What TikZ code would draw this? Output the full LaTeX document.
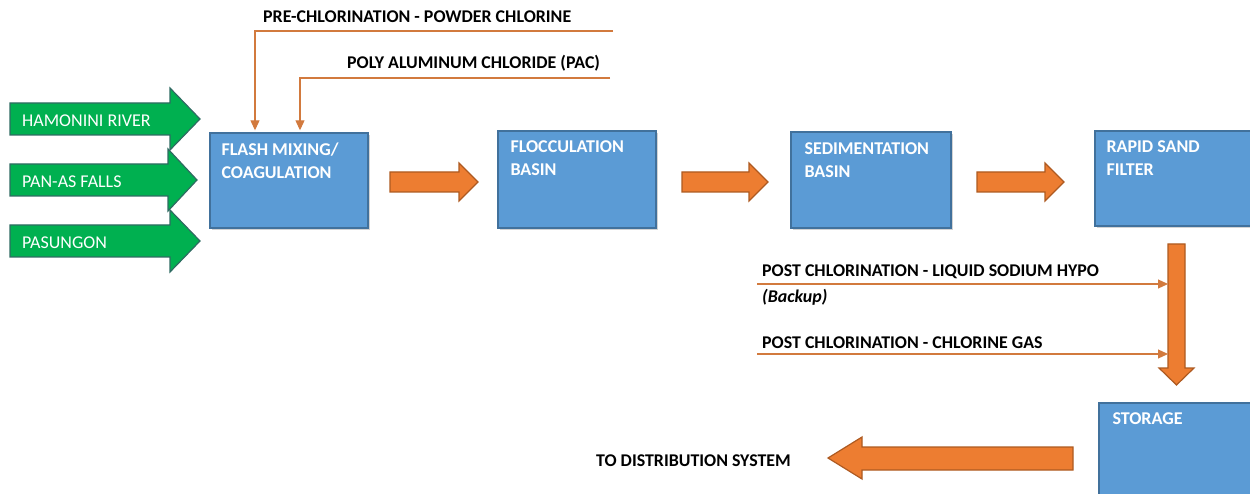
\documentclass[tikz,border=0pt]{standalone}
\usepackage{fontspec}
\setmainfont{Carlito}
\usetikzlibrary{arrows.meta,shadows}
\definecolor{boxblue}{HTML}{5B9BD5}
\definecolor{boxedge}{HTML}{41719C}
\definecolor{flowgreen}{HTML}{00B050}
\definecolor{greenedge}{HTML}{2F6B62}
\definecolor{floworange}{HTML}{ED7D31}
\definecolor{orangeedge}{HTML}{AE5A21}
\definecolor{feedline}{HTML}{D27A3E}

% right-pointing block arrow: style, x start, x head base, x tip, y centre, body half, head half
\newcommand{\blockarrowR}[7]{%
  \draw[#1] (#2,#5-#6) -- (#3,#5-#6) -- (#3,#5-#7) -- (#4,#5) -- (#3,#5+#7)
    -- (#3,#5+#6) -- (#2,#5+#6) -- cycle;}

\begin{document}
\begin{tikzpicture}[x=1pt,y=-1pt,
  stage/.style={draw=boxedge, line width=1.4pt, fill=boxblue, inner sep=0pt,
    drop shadow={opacity=0.35, shadow xshift=2pt, shadow yshift=-2pt}},
  stagetext/.style={anchor=north west, inner sep=0pt, text=white, align=left,
    font=\fontsize{18}{23}\selectfont\bfseries},
  source/.style={draw=greenedge, line width=1.2pt, fill=flowgreen, line join=miter},
  sourcetext/.style={anchor=west, inner sep=0pt, text=white,
    font=\fontsize{18}{21}\selectfont},
  flow/.style={draw=orangeedge, line width=1.2pt, fill=floworange, line join=miter},
  feed/.style={draw=feedline, line width=1.1pt,
    -{Triangle[width=9pt,length=10pt]}, shorten >=2pt},
  chemtext/.style={anchor=west, inner sep=0pt,
    font=\fontsize{17.9}{21}\selectfont\bfseries}]

\useasboundingbox (0,0) rectangle (1250,494);

% treatment stages
\node[stage, minimum width=158pt, minimum height=95pt] (flash) at (289,180.5) {};
\node[stage, minimum width=158pt, minimum height=97pt] (floc)  at (577,179.5) {};
\node[stage, minimum width=160pt, minimum height=96pt] (sed)   at (871,180) {};
\node[stage, minimum width=158pt, minimum height=95pt] (rsf)   at (1174,178.5) {};
\node[stage, minimum width=154pt, minimum height=97pt] (store) at (1176,451.5) {};

\node[stagetext] (flashlbl) at ([xshift=12pt,yshift=-10pt]flash.north west) {FLASH MIXING/\\COAGULATION};
\node[stagetext] (floclbl)  at ([xshift=13pt,yshift=-10pt]floc.north west) {FLOCCULATION\\BASIN};
\node[stagetext] (sedlbl)   at ([xshift=14pt,yshift=-11pt]sed.north west) {SEDIMENTATION\\BASIN};
\node[stagetext] (rsflbl)   at ([xshift=12pt,yshift=-10pt]rsf.north west) {RAPID SAND\\FILTER};
\node[stagetext] (storelbl) at ([xshift=14pt,yshift=-10pt]store.north west) {STORAGE};

% raw water sources
\blockarrowR{source}{10}{170}{200}{119}{16}{31}
\blockarrowR{source}{10}{168}{197}{180}{16}{31}
\blockarrowR{source}{10}{170}{200}{241}{16}{31}
\node[sourcetext] (src1) at (22,121) {HAMONINI RIVER};
\node[sourcetext] (src2) at (22,182) {PAN-AS FALLS};
\node[sourcetext] (src3) at (22,243) {PASUNGON};

% process flow between stages
\blockarrowR{flow}{390}{459}{478}{182}{10}{19}
\blockarrowR{flow}{682}{749}{768}{182}{10}{19}
\blockarrowR{flow}{977}{1045}{1064}{182}{10}{19}

% filter down to storage
\draw[flow] (1168,244) -- (1185,244) -- (1185,368) -- (1194,368) -- (1176.5,385)
  -- (1159,368) -- (1168,368) -- cycle;
\coordinate (downleft) at (1168,300);

% storage out to distribution
\draw[flow] (1073,447) -- (862,447) -- (862,437) -- (828,458) -- (862,479)
  -- (862,470) -- (1073,470) -- cycle;
\node[chemtext] (dist) at (596,461) {TO DISTRIBUTION SYSTEM};

% chemical dosing
\node[chemtext] (prelbl) at (263,17) {PRE-CHLORINATION - POWDER CHLORINE};
\node[chemtext] (paclbl) at (347,63) {POLY ALUMINUM CHLORIDE (PAC)};
\coordinate (preend) at (613,31);
\coordinate (precorner) at (255,31);
\coordinate (pacend) at (610,78);
\coordinate (paccorner) at (300,78);
\draw[feed] (preend) -- (precorner) -- (precorner |- flash.north);
\draw[feed] (pacend) -- (paccorner) -- (paccorner |- flash.north);

\node[chemtext] (hypolbl) at (762,272) {POST CHLORINATION - LIQUID SODIUM HYPO};
\node[chemtext, font=\fontsize{17.9}{21}\selectfont\bfseries\itshape] (backup) at (762,297) {(Backup)};
\node[chemtext] (gaslbl) at (762,343) {POST CHLORINATION - CHLORINE GAS};
\coordinate (hypostart) at (757,284);
\coordinate (gasstart) at (757,354);
\draw[feed, shorten >=0pt] (hypostart) -- (hypostart -| downleft);
\draw[feed, shorten >=0pt] (gasstart) -- (gasstart -| downleft);

\end{tikzpicture}
\end{document}
